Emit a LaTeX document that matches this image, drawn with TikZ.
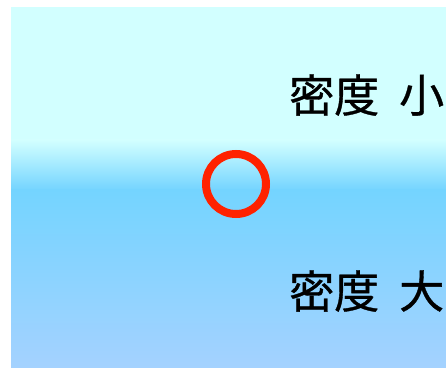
\documentclass[tikz,border=0pt]{standalone}
\usepackage{fontspec}
\newfontfamily\cjk[FakeBold=0.8]{Noto Sans CJK JP}
\definecolor{topc}{RGB}{210,255,255}
\definecolor{midc}{RGB}{116,212,255}
\definecolor{botc}{RGB}{164,210,255}
\definecolor{ringred}{RGB}{255,34,0}
\tikzset{
  label/.style={anchor=west,inner sep=0pt,font=\cjk\fontsize{45}{50}\selectfont,text=black},
  ring/.style={draw=ringred,line width=8pt,fill=none}
}
\begin{document}
\begin{tikzpicture}[x=1pt,y=1pt]
\useasboundingbox (0,0) rectangle (446,367);
\fill[white] (0,0) rectangle (446,367);
\fill[topc] (11,227) rectangle (446,360);
\shade[top color=topc,bottom color=midc] (11,177) rectangle (446,227);
\shade[top color=midc,bottom color=botc] (11,0) rectangle (446,177.5);
\node[ring,circle,minimum size=60pt,inner sep=0pt] (bubble) at (236,183) {};
\node[label] (low) at (289,272) {密度\hspace{20pt}小};
\node[label] (high) at (289,76) {密度\hspace{20pt}大};
\end{tikzpicture}
\end{document}
